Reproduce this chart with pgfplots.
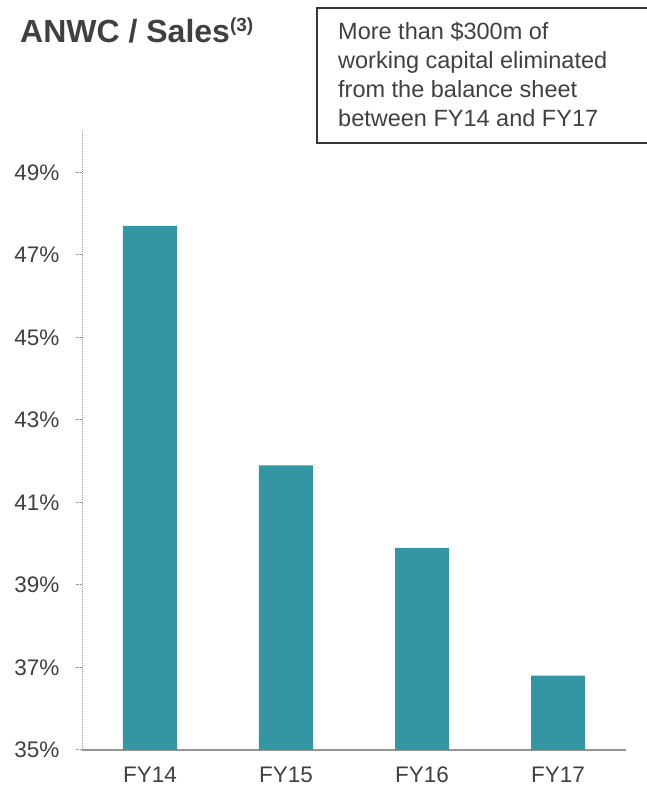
\documentclass[border=0pt]{standalone}
\usepackage{pgfplots}
\pgfplotsset{compat=1.18}
\usepackage{fontspec}
\setmainfont{Liberation Sans}
\definecolor{barc}{RGB}{54,149,163}
\definecolor{txt}{RGB}{64,64,64}
\definecolor{axc}{RGB}{150,150,150}
\begin{document}
\begin{tikzpicture}[x=1pt,y=1pt]
\path[use as bounding box] (0,0) rectangle (646,790);
\begin{axis}[
  at={(82pt,40pt)}, anchor=south west,
  scale only axis, width=544pt, height=619pt,
  xmin=-0.5, xmax=3.5, ymin=35, ymax=50,
  axis x line*=bottom, axis y line*=left,
  axis line style={-},
  x axis line style={axc, line width=1.6pt},
  y axis line style={axc, densely dotted, line width=1pt},
  xtick={0,1,2,3},
  xticklabels={FY14,FY15,FY16,FY17},
  x tick style={draw=none},
  extra x ticks={-0.5,0.5,1.5,2.5,3.5},
  extra x tick labels={},
  extra x tick style={tick align=outside, major tick length=8pt, tick style={axc, line width=1.6pt}},
  ytick={35,37,39,41,43,45,47,49},
  yticklabels={35\%,37\%,39\%,41\%,43\%,45\%,47\%,49\%},
  y tick style={axc, densely dotted, line width=1pt},
  tick align=outside, major tick length=6pt,
  ticklabel style={font=\fontsize{22.5}{26}\selectfont, text=txt},
  yticklabel style={xshift=-13pt},
  xticklabel style={yshift=-7pt},
  ybar, bar width=54pt,
  clip=false,
]
\addplot[fill=barc, draw=none] coordinates {(0,47.7) (1,41.9) (2,39.9) (3,36.8)};
\end{axis}
\node[anchor=base west, text=txt, inner sep=0pt, font=\fontsize{32}{34}\selectfont\bfseries] at (20,747) {ANWC / Sales\raisebox{11pt}{\fontsize{19}{20}\selectfont(3)}};
\draw[txt!85!black, line width=1.2pt] (317,782) rectangle (660,647);
\begin{scope}[every node/.style={anchor=base west, text=txt, inner sep=0pt, font=\fontsize{23.5}{26}\selectfont}]
\node at (338,750) {More than \$300m of};
\node at (338,721) {working capital eliminated};
\node at (338,692) {from the balance sheet};
\node at (338,663) {between FY14 and FY17};
\end{scope}
\end{tikzpicture}
\end{document}
